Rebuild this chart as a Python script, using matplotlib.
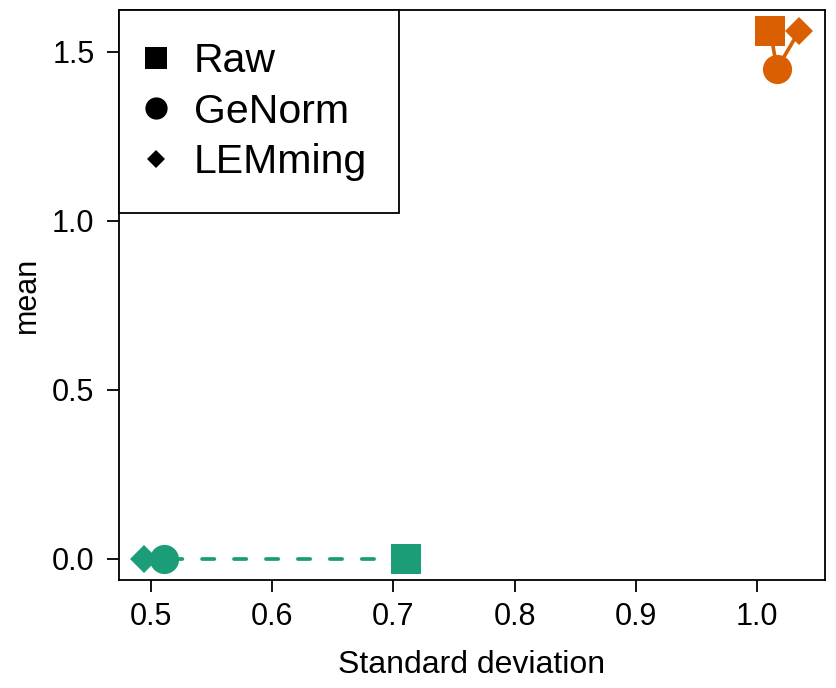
import matplotlib
matplotlib.use("Agg")
import matplotlib.pyplot as plt
from matplotlib.lines import Line2D

plt.rcParams['font.family'] = ['Liberation Sans', 'DejaVu Sans']

methods = ["Raw", "GeNorm", "LEMming"]
markers = ["s", "o", "D"]
# group 1 (green)
sd_green = [0.710, 0.511, 0.4946]
mean_green = [0.0, 0.0, 0.0]
# group 2 (orange)
sd_orange = [1.011, 1.0163, 1.0347]
mean_orange = [1.5617, 1.450, 1.5617]

green = "#1B9E77"
orange = "#D95F02"
msizes = [21, 21, 14.5]

fig = plt.figure(figsize=(8.37, 6.88), dpi=100)
ax = fig.add_axes([119/837, 1-580/688, (825-119)/837, (580-10)/688])

ax.plot(sd_green, mean_green, color=green, lw=2.7, dashes=(3.26, 5.26),
        dash_capstyle='round', zorder=2)
ax.plot(sd_orange, mean_orange, color=orange, lw=2.6, solid_capstyle='butt', zorder=2)
for i in range(3):
    ax.plot(sd_green[i], mean_green[i], marker=markers[i], ms=msizes[i],
            color=green, mew=0, ls='none', zorder=3)
    ax.plot(sd_orange[i], mean_orange[i], marker=markers[i], ms=msizes[i],
            color=orange, mew=0, ls='none', zorder=3)

ax.set_xlim(0.4736, 1.056)
ax.set_ylim(-0.0625, 1.624)
ax.set_xticks([0.5, 0.6, 0.7, 0.8, 0.9, 1.0])
ax.set_xticklabels(["0.5", "0.6", "0.7", "0.8", "0.9", "1.0"])
ax.set_yticks([0.0, 0.5, 1.0, 1.5])
ax.set_yticklabels(["0.0", "0.5", "1.0", "1.5"])
for s in ax.spines.values():
    s.set_linewidth(1.3)
ax.tick_params(direction='out', length=8.6, width=1.3, labelsize=22)
ax.tick_params(axis='x', pad=7)
ax.tick_params(axis='y', pad=9)
ax.set_xlabel("Standard deviation", fontsize=23, labelpad=13)
ax.set_ylabel("mean", fontsize=22, labelpad=7)

handles = [Line2D([], [], marker=m, color='black', ls='none', mew=0, ms=s)
           for m, s in zip(markers, [16, 16, 9.5])]
leg = ax.legend(handles, methods, loc='upper left', borderaxespad=0,
                fontsize=29.5, frameon=True, fancybox=False, edgecolor='black',
                borderpad=0.78, labelspacing=0.31, handlelength=0.25,
                handletextpad=0.8, framealpha=1)
leg.get_frame().set_linewidth(1.3)

fig.savefig("out.png", dpi=100)
